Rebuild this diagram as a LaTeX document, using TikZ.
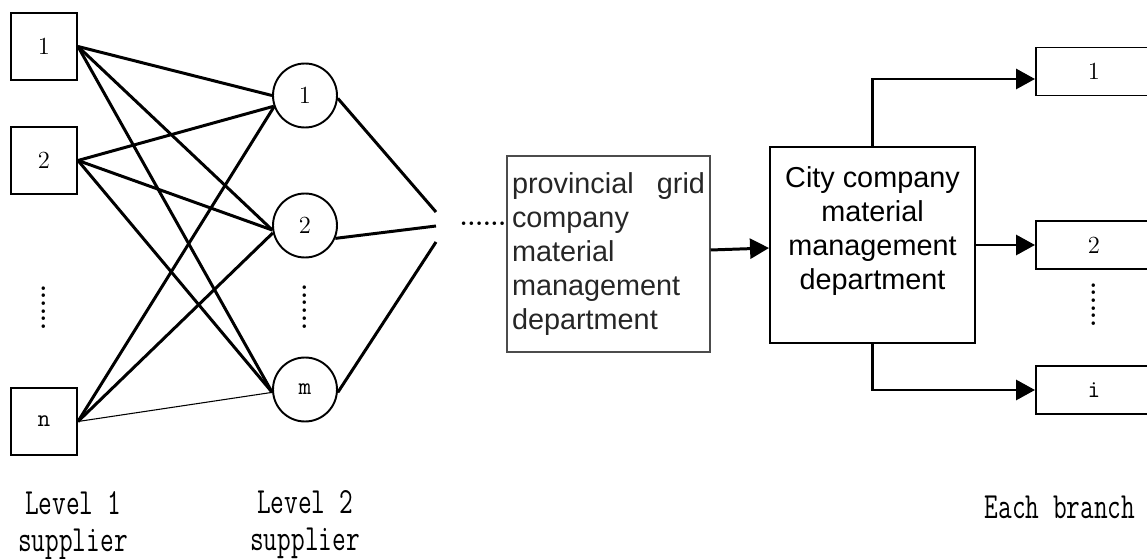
\documentclass[tikz,border=0pt]{standalone}
\usepackage{fontspec}
\newfontfamily\arialfont{Liberation Sans}
\usetikzlibrary{arrows.meta}
\newcommand\narrowtt[1]{\scalebox{0.72}[1]{#1}}

\begin{document}
\begin{tikzpicture}[
  supbox/.style={draw, line width=1.1pt, minimum width=1.32cm, minimum height=1.34cm, inner sep=0pt, font=\fontsize{14}{16}\selectfont},
  supcirc/.style={draw, circle, line width=1.1pt, minimum size=1.28cm, inner sep=0pt, font=\fontsize{14}{16}\selectfont},
  branchbox/.style={draw, line width=1.1pt, minimum width=2.32cm, minimum height=0.96cm, inner sep=0pt, font=\fontsize{14}{16}\selectfont},
  provbox/.style={draw=black!70, line width=0.6pt, minimum width=4.06cm, minimum height=3.92cm, inner xsep=0.1cm, text width=3.86cm, align=left, text=black!85, font=\arialfont\fontsize{16.4}{19.4}\selectfont},
  citybox/.style={draw, line width=1.1pt, minimum width=4.10cm, minimum height=3.92cm, inner sep=0pt, align=center, font=\arialfont\fontsize{16.4}{19.4}\selectfont},
  levellabel/.style={align=center, inner sep=0pt, font=\ttfamily\fontsize{21}{21}\selectfont},
  dotcol/.style={inner sep=0pt, font=\bfseries\fontsize{14}{14}\selectfont},
  link/.style={line width=1.7pt},
  thinlink/.style={line width=0.6pt},
  arr/.style={line width=1.7pt, -{Triangle[length=0.38cm,width=0.40cm]}}
]
\useasboundingbox (0,0) rectangle (22.94,-11.18);
\clip (0,0) rectangle (22.94,-11.18);

\draw (0.88,-0.93) node[supbox] (s1) {1};
\draw (0.88,-3.21) node[supbox] (s2) {2};
\draw (0.88,-6.15) node[dotcol, rotate=90] (sdots) {......};
\draw (0.88,-8.43) node[supbox] (sn) {\ttfamily n};

\draw (6.10,-1.91) node[supcirc] (c1) {1};
\draw (6.10,-4.51) node[supcirc] (c2) {2};
\draw (6.10,-6.14) node[dotcol, rotate=90] (cdots) {......};
\draw (6.10,-7.79) node[supcirc] (cm) {\ttfamily m};

\draw[link] (s1.east) -- (c1.west);
\draw[link] (s1.east) -- (c2.188);
\draw[link] (s1.east) -- (cm.185);
\draw[link] (s2.east) -- (c1.199);
\draw[link] (s2.east) -- (c2.188);
\draw[link] (s2.east) -- (cm.185);
\draw[link] (sn.east) -- (c1.200);
\draw[link] (sn.east) -- (c2.193);
\draw[thinlink] (sn.east) -- (cm.185);

\coordinate (e1) at (8.72,-4.24);
\coordinate (e2) at (8.72,-4.52);
\coordinate (e3) at (8.72,-4.84);
\draw[link] (c1.-5) -- (e1);
\draw[link] (c2.-23) -- (e2);
\draw[link] (cm.-5) -- (e3);

\draw (9.66,-4.48) node[dotcol] (hdots) {......};
\draw (12.17,-5.08) node[provbox] (prov) {\hbox to 3.86cm{provincial\hfill grid}\\company\\material\\management\\department};
\draw (17.45,-4.90) node[citybox] (city) {City company\\material\\management\\department\\\mbox{}};
\draw[arr] ([yshift=0.08cm]prov.east) -- ([yshift=-0.06cm]city.west);

\draw (21.88,-1.43) node[branchbox] (b1) {1};
\draw (21.88,-4.90) node[branchbox] (b2) {2};
\draw (21.88,-6.09) node[dotcol, rotate=90] (bdots) {......};
\draw (21.88,-7.80) node[branchbox] (bi) {\ttfamily i};
\draw[arr] (city.north) |- ([yshift=-0.15cm]b1.west);
\draw[arr] (city.east) -- (b2.west);
\draw[arr] (city.south) |- (bi.west);

\draw (1.46,-10.52) node[levellabel] (lab1) {\narrowtt{Level 1}\\\narrowtt{supplier}};
\draw (6.10,-10.50) node[levellabel] (lab2) {\narrowtt{Level 2}\\\narrowtt{supplier}};
\draw (21.20,-10.15) node[levellabel] (lab3) {\narrowtt{Each branch}};
\end{tikzpicture}
\end{document}
